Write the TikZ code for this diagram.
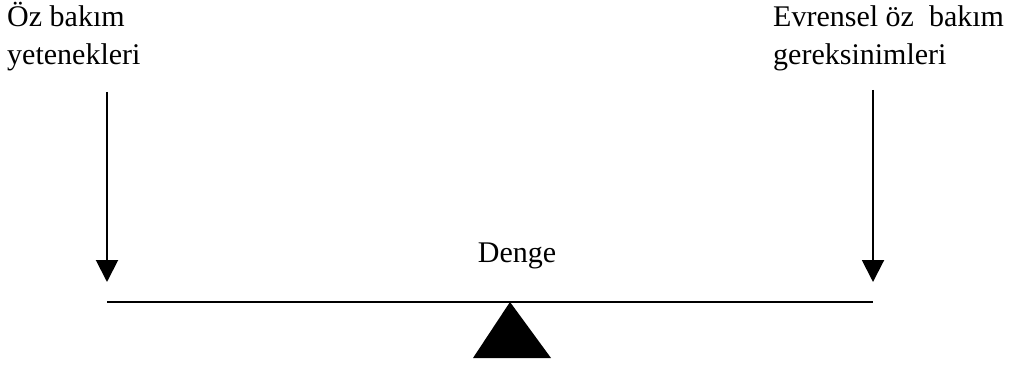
\documentclass[tikz,border=0pt]{standalone}
\usepackage{fontspec}
\setmainfont{Liberation Serif}
\usetikzlibrary{arrows.meta, positioning}

\begin{document}
\begin{tikzpicture}[x=1pt, y=1pt,
    every node/.style={font=\fontsize{30}{38}\selectfont, inner sep=0pt},
    load/.style={line width=2pt, -{Triangle[width=22pt, length=22pt]}}]
  \useasboundingbox (0,0) rectangle (1024,367);
  % labels (base anchor sits on the last line)
  \node[anchor=base west, align=left] (yetenek) at (7,302) {Öz bakım\\yetenekleri};
  \node[anchor=base west, align=left] (gereksinim) at (773,302) {Evrensel öz\ \ bakım\\gereksinimleri};
  \node[anchor=base] (denge) at (517,105) {Denge};
  % beam and loads
  \coordinate (leftTop) at (107,275);
  \coordinate (leftTip) at (107,85);
  \coordinate (rightTop) at (873,277);
  \coordinate (rightTip) at (873,85);
  \coordinate (beamL) at (107,65);
  \coordinate (beamR) at (873,65);
  \draw[load] (leftTop) -- (leftTip);
  \draw[load] (rightTop) -- (rightTip);
  \draw[line width=2.5pt] (beamL) -- (beamR);
  % fulcrum
  \coordinate (apex) at (510,65);
  \fill (apex) -- (473,9) -- (551,9) -- cycle;
\end{tikzpicture}
\end{document}
